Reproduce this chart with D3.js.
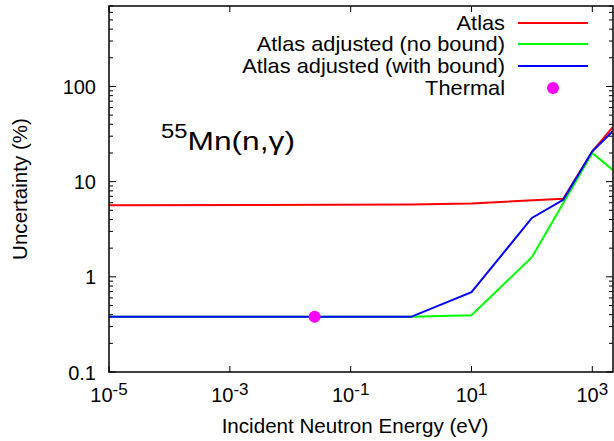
<!DOCTYPE html>
<html>
<head>
<meta charset="utf-8">
<script src="https://cdn.jsdelivr.net/npm/d3@7"></script>
<style>
  html, body { margin: 0; padding: 0; background: #fff; }
  svg { display: block; font-family: "Liberation Sans", Arial, Helvetica, sans-serif; }
</style>
</head>
<body>
<svg id="chart" width="614" height="441"></svg>
<script>
// ---- data ----
const atlasE = [1e-5, 1, 10, 330, 1000, 2200];
const atlasU = [5.65, 5.75, 5.9, 6.6, 20.8, 37.5];

const noBoundE = [1e-5, 1, 10, 100, 1000, 2200];
const noBoundU = [0.38, 0.38, 0.395, 1.61, 20, 13.2];

const withBoundE = [1e-5, 1, 10, 100, 330, 1000, 2200];
const withBoundU = [0.38, 0.38, 0.69, 4.15, 6.45, 20.8, 34];

const thermalE = [0.0253];
const thermalU = [0.38];

const xTickValues = [1e-5, 1e-3, 1e-1, 1e1, 1e3];
const xTickExps = ["-5", "-3", "-1", "1", "3"];
const yTickValues = [0.1, 1, 10, 100];
const yTickLabels = ["0.1", "1", "10", "100"];

const seriesNames = ["Atlas", "Atlas adjusted (no bound)", "Atlas adjusted (with bound)", "Thermal"];
const seriesColors = ["#ff0000", "#00ff00", "#0000ff", "#ff00ff"];

// ---- layout ----
const pL = 109, pR = 613, pT = 6, pB = 372;
const svg = d3.select("#chart");

const x = d3.scaleLog().domain([1e-5, 2200]).range([pL, pR]);
const y = d3.scaleLog().domain([0.1, 700]).range([pB, pT]);

const fs = 20;

// minor y ticks
const yMinor = [];
for (let dec = -1; dec <= 2; dec++) {
  for (let m = 2; m <= 9; m++) {
    const v = m * Math.pow(10, dec);
    if (v <= 700) yMinor.push(v);
  }
}

const tickG = svg.append("g").attr("stroke", "#000").attr("stroke-width", 1);
tickG.selectAll(".ymaj").data(yTickValues).join("g").each(function(d) {
  const g = d3.select(this);
  g.append("line").attr("x1", pL).attr("x2", pL + 7).attr("y1", y(d)).attr("y2", y(d));
  g.append("line").attr("x1", pR).attr("x2", pR - 7).attr("y1", y(d)).attr("y2", y(d));
});
tickG.selectAll(".ymin").data(yMinor).join("g").each(function(d) {
  const g = d3.select(this);
  g.append("line").attr("x1", pL).attr("x2", pL + 4).attr("y1", y(d)).attr("y2", y(d));
  g.append("line").attr("x1", pR).attr("x2", pR - 4).attr("y1", y(d)).attr("y2", y(d));
});
tickG.selectAll(".xmaj").data(xTickValues).join("g").each(function(d) {
  const g = d3.select(this);
  g.append("line").attr("x1", x(d)).attr("x2", x(d)).attr("y1", pB).attr("y2", pB - 6);
  g.append("line").attr("x1", x(d)).attr("x2", x(d)).attr("y1", pT).attr("y2", pT + 6);
});

// ---- series lines ----
const line = d3.line().x(d => x(d[0])).y(d => y(d[1]));
const series = [
  [atlasE, atlasU, seriesColors[0]],
  [noBoundE, noBoundU, seriesColors[1]],
  [withBoundE, withBoundU, seriesColors[2]]
];
svg.append("clipPath").attr("id", "clip").append("rect")
  .attr("x", pL).attr("y", pT).attr("width", pR - pL).attr("height", pB - pT);
const plotG = svg.append("g").attr("clip-path", "url(#clip)");
series.forEach(([E, U, c]) => {
  plotG.append("path")
    .datum(E.map((e, i) => [e, U[i]]))
    .attr("d", line)
    .attr("fill", "none")
    .attr("stroke", c)
    .attr("stroke-width", 2);
});
plotG.selectAll(".thermal").data(thermalE.map((e, i) => [e, thermalU[i]])).join("circle")
  .attr("cx", d => x(d[0])).attr("cy", d => y(d[1])).attr("r", 6).attr("fill", seriesColors[3]);

// border
svg.append("rect").attr("x", pL).attr("y", pT).attr("width", pR - pL).attr("height", pB - pT)
  .attr("fill", "none").attr("stroke", "#000").attr("stroke-width", 1.5);

// ---- tick labels ----
svg.selectAll(".ylab").data(yTickValues).join("text")
  .attr("x", 96).attr("y", d => y(d) + 7.5)
  .attr("text-anchor", "end").attr("font-size", fs).text((d, i) => yTickLabels[i]);

const xl = svg.selectAll(".xlab").data(xTickValues).join("text")
  .attr("x", d => x(d)).attr("y", 402)
  .attr("text-anchor", "middle").attr("font-size", fs);
xl.append("tspan").text("10");
xl.append("tspan").attr("dy", -7).attr("font-size", 17).text((d, i) => xTickExps[i]);

// axis titles
svg.append("text").attr("x", (pL + pR) / 2 - 6).attr("y", 433)
  .attr("text-anchor", "middle").attr("font-size", 20.6).text("Incident Neutron Energy (eV)");
svg.append("text").attr("transform", `translate(27,${(pT + pB) / 2}) rotate(-90)`)
  .attr("text-anchor", "middle").attr("font-size", 20.6).text("Uncertainty (%)");

// chart annotation
const ann = svg.append("text").attr("transform", "translate(161,150) scale(1.22,1)").attr("font-size", 26);
ann.append("tspan").attr("font-size", 19.5).attr("dy", -12).text("55");
ann.append("tspan").attr("dy", 12).text("Mn(n,γ)");

// ---- legend ----
const legY = [23, 44, 66, 88];
const leg = svg.append("g");
seriesNames.forEach((name, i) => {
  leg.append("text").attr("transform", `translate(505,${legY[i] + 6.5}) scale(1.09,1)`)
    .attr("text-anchor", "end").attr("font-size", fs).text(name);
  if (i < 3) {
    leg.append("line").attr("x1", 518).attr("x2", 588).attr("y1", legY[i]).attr("y2", legY[i])
      .attr("stroke", seriesColors[i]).attr("stroke-width", 2);
  } else {
    leg.append("circle").attr("cx", 553).attr("cy", legY[i]).attr("r", 6).attr("fill", seriesColors[i]);
  }
});
</script>
</body>
</html>
